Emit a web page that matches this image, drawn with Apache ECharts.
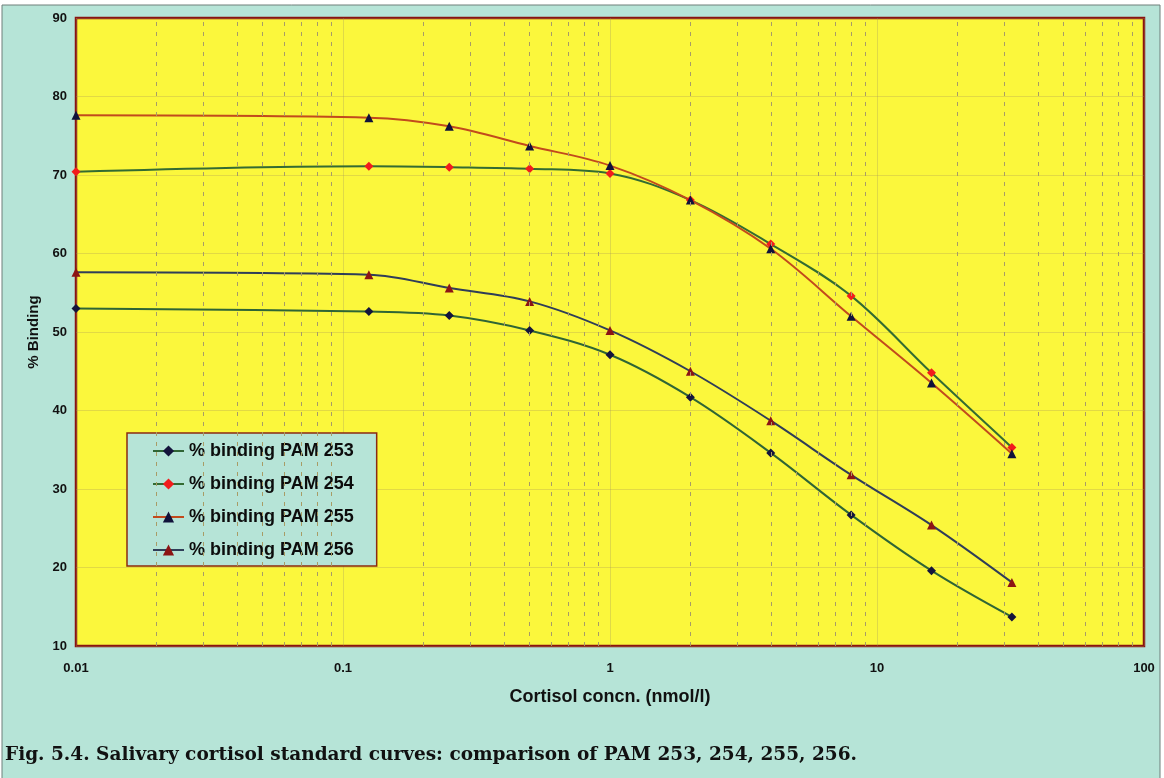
<!DOCTYPE html>
<html>
<head>
<meta charset="utf-8">
<title>Salivary cortisol standard curves</title>
<script src="https://cdn.jsdelivr.net/npm/echarts@6/dist/echarts.min.js"></script>
<style>
  html, body { margin: 0; padding: 0; background: #ffffff; }
  #chart { width: 1164px; height: 778px; }
</style>
</head>
<body>
<div id="chart"></div>
<script>
// Standard concentrations (nmol/l); the zero standard is plotted at 0.01
const concentrations = [0.01, 0.125, 0.25, 0.5, 1, 2, 4, 8, 16, 32];

// % binding for each antibody lot
const pam253 = [53.0, 52.6, 52.1, 50.2, 47.1, 41.7, 34.6, 26.7, 19.6, 13.7];
const pam254 = [70.4, 71.1, 71.0, 70.8, 70.2, 66.8, 61.2, 54.6, 44.8, 35.3];
const pam255 = [77.6, 77.3, 76.2, 73.7, 71.2, 66.8, 60.6, 52.0, 43.5, 34.5];
const pam256 = [57.6, 57.3, 55.6, 53.9, 50.2, 45.0, 38.7, 31.8, 25.4, 18.1];

const seriesNames = ['% binding PAM 253', '% binding PAM 254', '% binding PAM 255', '% binding PAM 256'];

// Axis ranges and tick labels
const xDecades = [0.01, 0.1, 1, 10, 100];
const yTicks = [10, 20, 30, 40, 50, 60, 70, 80, 90];
const captionText = 'Fig. 5.4. Salivary cortisol standard curves: comparison of PAM 253, 254, 255, 256.';

// Intermediate log gridlines (2..9 within each decade)
const minorGrid = [];
for (let d = 0; d < xDecades.length - 1; d++) {
  for (let k = 2; k <= 9; k++) minorGrid.push(+(xDecades[d] * k).toPrecision(3));
}

const AQUA = '#b6e4d7';
const FONT = '"Liberation Sans", Arial, sans-serif';

function pairs(ys) {
  return concentrations.map((x, i) => [x, ys[i]]);
}

function curve(name, ys, lineColor, symbol, markerColor) {
  return {
    name: name,
    type: 'line',
    data: pairs(ys),
    smooth: 0.35,
    symbol: symbol,
    symbolSize: 9,
    showSymbol: true,
    z: 3,
    lineStyle: { color: lineColor, width: 2 },
    itemStyle: { color: markerColor, borderWidth: 0 }
  };
}

const chart = echarts.init(document.getElementById('chart'), null, { renderer: 'canvas' });

const gridLineStyle = { color: '#a89c66', width: 1, type: [4, 6] };

chart.setOption({
  backgroundColor: '#ffffff',
  animation: false,
  graphic: [
    {
      type: 'rect',
      z: -10,
      shape: { x: 2, y: 5, width: 1158, height: 790 },
      style: { fill: AQUA, stroke: '#6f7f7a', lineWidth: 1 }
    },
    {
      type: 'text',
      left: 5,
      top: 746,
      z: 10,
      style: {
        text: captionText,
        fill: '#111111',
        font: 'bold 18.5px "DejaVu Serif", "Liberation Serif", serif'
      }
    }
  ],
  grid: {
    left: 76,
    right: 20,
    top: 18,
    bottom: 132,
    show: true,
    backgroundColor: '#fbf73c',
    borderColor: '#8a1410',
    borderWidth: 2.5
  },
  legend: {
    data: seriesNames,
    orient: 'vertical',
    left: 127,
    top: 433,
    itemWidth: 31,
    itemHeight: 14,
    itemGap: 15,
    padding: [9, 23, 7, 25],
    backgroundColor: AQUA,
    borderColor: '#8a2a12',
    borderWidth: 1.5,
    lineStyle: { width: 2 },
    textStyle: { fontFamily: FONT, fontWeight: 'bold', fontSize: 18, color: '#0c0c0c' }
  },
  xAxis: {
    type: 'log',
    logBase: 10,
    min: xDecades[0],
    max: xDecades[xDecades.length - 1],
    name: 'Cortisol concn. (nmol/l)',
    nameLocation: 'middle',
    nameGap: 42,
    nameTextStyle: { fontFamily: FONT, fontWeight: 'bold', fontSize: 18, color: '#111111' },
    axisLine: { show: false },
    axisTick: { show: false },
    axisLabel: {
      margin: 16,
      fontFamily: FONT,
      fontWeight: 'bold',
      fontSize: 13,
      color: '#111111',
      formatter: function (v) { return String(+v.toPrecision(3)); }
    },
    splitLine: { show: true, lineStyle: { color: 'rgba(160,150,100,0.3)', width: 1 } }
  },
  yAxis: {
    type: 'value',
    min: yTicks[0],
    max: yTicks[yTicks.length - 1],
    interval: 10,
    name: '% Binding',
    nameLocation: 'middle',
    nameGap: 33,
    nameTextStyle: { fontFamily: FONT, fontWeight: 'bold', fontSize: 15, color: '#111111' },
    axisLine: { show: false },
    axisTick: { show: false },
    axisLabel: {
      margin: 9,
      padding: [5, 0, 0, 0],
      fontFamily: FONT,
      fontWeight: 'bold',
      fontSize: 13,
      color: '#111111'
    },
    splitLine: { show: true, lineStyle: { color: 'rgba(170,150,90,0.3)', width: 1 } }
  },
  series: [
    {
      name: 'log gridlines',
      type: 'line',
      data: [],
      z: 1,
      silent: true,
      markLine: {
        silent: true,
        symbol: ['none', 'none'],
        label: { show: false },
        emphasis: { disabled: true },
        lineStyle: gridLineStyle,
        data: minorGrid.map(v => ({ xAxis: v, lineStyle: gridLineStyle }))
      }
    },
    curve(seriesNames[0], pam253, '#2f6535', 'diamond', '#14143c'),
    curve(seriesNames[1], pam254, '#336b32', 'diamond', '#f21c1c'),
    curve(seriesNames[2], pam255, '#c24a1c', 'triangle', '#10123a'),
    curve(seriesNames[3], pam256, '#2f3d58', 'triangle', '#8c1414')
  ]
});
</script>
</body>
</html>
